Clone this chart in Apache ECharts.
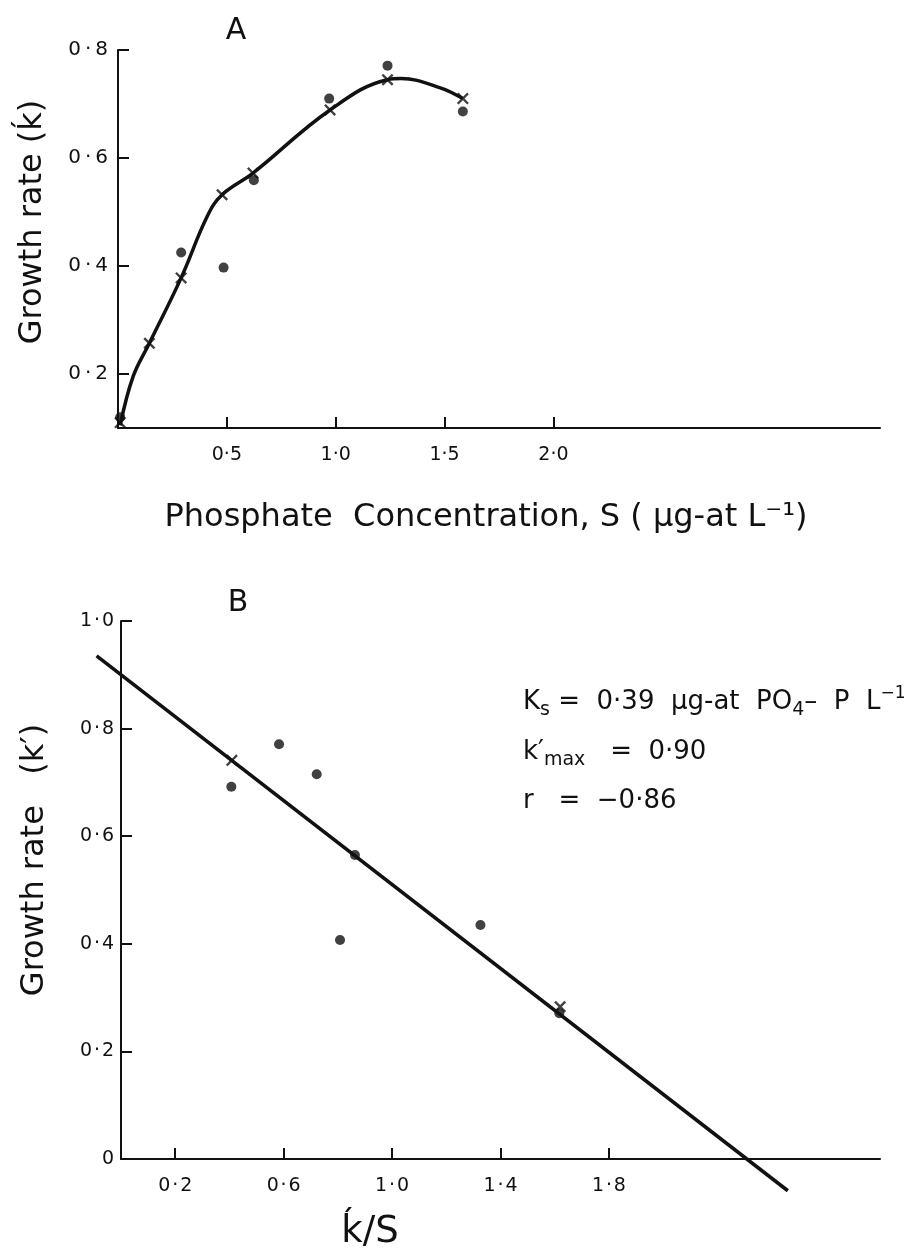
<!DOCTYPE html>
<html><head><meta charset="utf-8">
<script src="https://cdn.jsdelivr.net/npm/echarts@6/dist/echarts.min.js"></script>
<style>html,body{margin:0;padding:0;background:#fff}#c{width:922px;height:1258px}</style>
</head><body><div id="c"></div>
<script>
// ---------- Panel A : growth rate vs phosphate concentration ----------
// fitted curve
const aCurveX = [0.01, 0.07, 0.144, 0.29, 0.41, 0.478, 0.62, 0.974, 1.238, 1.3, 1.48, 1.584];
const aCurveY = [0.105, 0.196, 0.257, 0.378, 0.492, 0.532, 0.572, 0.689, 0.745, 0.747, 0.73, 0.71];
// crosses (points on the curve)
const aCrossX = [0.01, 0.144, 0.29, 0.478, 0.62, 0.974, 1.238, 1.584];
const aCrossY = [0.11, 0.257, 0.378, 0.532, 0.572, 0.689, 0.745, 0.71];
// dots (observed)
const aDotX = [0.01, 0.29, 0.485, 0.624, 0.97, 1.238, 1.584];
const aDotY = [0.12, 0.425, 0.397, 0.559, 0.71, 0.771, 0.686];
const aXTicks = [0.5, 1.0, 1.5, 2.0];
const aYTicks = [0.2, 0.4, 0.6, 0.8];
// ---------- Panel B : growth rate vs k'/S ----------
const bDotX = [0.407, 0.583, 0.722, 0.863, 0.808, 1.326, 1.617];
const bDotY = [0.692, 0.771, 0.715, 0.565, 0.407, 0.435, 0.271];
const bCrossX = [0.409, 1.62];
const bCrossY = [0.741, 0.283];
const bLineX = [-0.09, 2.46];
const bLineY = [0.935, -0.059];
const bXTicks = [0.2, 0.6, 1.0, 1.4, 1.8];
const bYTicks = [0.2, 0.4, 0.6, 0.8, 1.0];
const bYLabels = [0, 0.2, 0.4, 0.6, 0.8, 1.0];

const zip = (xs, ys) => xs.map((x, i) => [x, ys[i]]);
const fmtSp = sep => v => (Math.abs(v) < 1e-9 ? '0' : v.toFixed(1).replace('.', sep));
const FONT = 'DejaVu Sans';
const BLACK = '#111';
const CROSS = 'path://M0,1.4L1.4,0L5,3.6L8.6,0L10,1.4L6.4,5L10,8.6L8.6,10L5,6.4L1.4,10L0,8.6L3.6,5Z';

function xAxisCfg(grid, min, max, ticks, sep, size) {
  return {
    type: 'value', gridIndex: grid, min: min, max: max,
    axisLine: { show: true, onZero: false, lineStyle: { color: BLACK, width: 2 } },
    axisTick: { show: true, inside: true, length: 11, customValues: ticks, lineStyle: { color: BLACK, width: 2 } },
    axisLabel: { show: true, customValues: ticks, formatter: fmtSp(sep), margin: 18, color: BLACK, fontFamily: FONT, fontSize: size },
    splitLine: { show: false }
  };
}
function yAxisCfg(grid, min, max, ticks, labels, sep, size, margin) {
  return {
    type: 'value', gridIndex: grid, min: min, max: max,
    axisLine: { show: true, onZero: false, lineStyle: { color: BLACK, width: 2 } },
    axisTick: { show: true, inside: true, length: 11, customValues: ticks, lineStyle: { color: BLACK, width: 2 } },
    axisLabel: { show: true, customValues: labels, formatter: fmtSp(sep), margin: margin, color: BLACK, fontFamily: FONT, fontSize: size },
    splitLine: { show: false }
  };
}
function hiddenAxis(grid, min, max) {
  return { type: 'value', gridIndex: grid, min: min, max: max, show: false, splitLine: { show: false } };
}

// panel B geometry: x 0..2.8 spans 759px starting at 121
const B_LEFT = 121, B_W = 759, B_XMAX = 2.8, B_XMIN_EXT = -0.1;
const B_PPU = B_W / B_XMAX;

const chart = echarts.init(document.getElementById('c'), null, { renderer: 'canvas' });
chart.setOption({
  backgroundColor: '#fff',
  animation: false,
  grid: [
    { left: 118, top: 50, width: 762, height: 378 },
    { left: B_LEFT, top: 621, width: B_W, height: 538 },
    // same scale as grid 1, extended to the left so the fitted line may start before k'/S = 0
    { left: B_LEFT + B_XMIN_EXT * B_PPU, top: 621, width: (B_XMAX - B_XMIN_EXT) * B_PPU, height: 538 }
  ],
  xAxis: [
    xAxisCfg(0, 0, 3.5, aXTicks, '·', 19),
    xAxisCfg(1, 0, B_XMAX, bXTicks, '\u200a·\u200a', 19),
    hiddenAxis(2, B_XMIN_EXT, B_XMAX)
  ],
  yAxis: [
    yAxisCfg(0, 0.1, 0.8, aYTicks, aYTicks, '\u2009·\u2009', 20, 10),
    yAxisCfg(1, 0, 1.0, bYTicks, bYLabels, '\u200a·\u200a', 19, 7),
    hiddenAxis(2, 0, 1.0)
  ],
  series: [
    { type: 'line', xAxisIndex: 0, yAxisIndex: 0, data: zip(aCurveX, aCurveY), smooth: 0.4,
      showSymbol: false, lineStyle: { color: BLACK, width: 3.5 }, z: 2 },
    { type: 'scatter', xAxisIndex: 0, yAxisIndex: 0, data: zip(aCrossX, aCrossY), symbol: CROSS, symbolSize: 12,
      itemStyle: { color: BLACK }, z: 3 },
    { type: 'scatter', xAxisIndex: 0, yAxisIndex: 0, data: zip(aDotX, aDotY), symbol: 'circle', symbolSize: 10,
      itemStyle: { color: BLACK }, z: 3 },
    { type: 'line', xAxisIndex: 2, yAxisIndex: 2, data: zip(bLineX, bLineY), clip: false,
      showSymbol: false, lineStyle: { color: BLACK, width: 3.5 }, z: 2 },
    { type: 'scatter', xAxisIndex: 1, yAxisIndex: 1, data: zip(bCrossX, bCrossY), symbol: CROSS, symbolSize: 12,
      itemStyle: { color: BLACK }, z: 3 },
    { type: 'scatter', xAxisIndex: 1, yAxisIndex: 1, data: zip(bDotX, bDotY), symbol: 'circle', symbolSize: 10,
      itemStyle: { color: BLACK }, z: 3 }
  ],
  graphic: [
    { type: 'text', x: 236, y: 31, style: { text: 'A', font: '30px "DejaVu Sans"', fill: BLACK, align: 'center', verticalAlign: 'middle' } },
    { type: 'text', x: 238, y: 603, style: { text: 'B', font: '30px "DejaVu Sans"', fill: BLACK, align: 'center', verticalAlign: 'middle' } },
    { type: 'text', x: 33, y: 222, rotation: Math.PI / 2,
      style: { text: 'Growth rate (ḱ)', font: '32px "DejaVu Sans"', fill: BLACK, align: 'center', verticalAlign: 'middle' } },
    { type: 'text', x: 35, y: 860, rotation: Math.PI / 2,
      style: { text: 'Growth rate   (k′)', font: '32px "DejaVu Sans"', fill: BLACK, align: 'center', verticalAlign: 'middle' } },
    { type: 'text', x: 486, y: 518,
      style: { text: 'Phosphate  Concentration, S ( μg-at L⁻¹)', font: '32px "DejaVu Sans"', fill: BLACK, align: 'center', verticalAlign: 'middle' } },
    { type: 'text', x: 370, y: 1232,
      style: { text: 'ḱ/S', font: '37px "DejaVu Sans"', fill: BLACK, align: 'center', verticalAlign: 'middle' } },
    { type: 'text', x: 523, y: 702,
      style: { text: '{a|K}{s|s}{a| =  0·39  μg-at  PO}{s|4}{a|–  P  L}{u|−1}', align: 'left', verticalAlign: 'middle',
        rich: { a: { font: '26px "DejaVu Sans"', fill: BLACK }, s: { font: '19px "DejaVu Sans"', fill: BLACK, padding: [16, 0, 0, 0] },
                u: { font: '17px "DejaVu Sans"', fill: BLACK, padding: [0, 0, 16, 0] } } } },
    { type: 'text', x: 523, y: 752,
      style: { text: '{a|k′}{s|max}{a|   =  0·90}', align: 'left', verticalAlign: 'middle',
        rich: { a: { font: '26px "DejaVu Sans"', fill: BLACK }, s: { font: '19px "DejaVu Sans"', fill: BLACK, padding: [16, 0, 0, 0] } } } },
    { type: 'text', x: 523, y: 801,
      style: { text: 'r   =  −0·86', font: '26px "DejaVu Sans"', fill: BLACK, align: 'left', verticalAlign: 'middle' } }
  ]
});
</script></body></html>
